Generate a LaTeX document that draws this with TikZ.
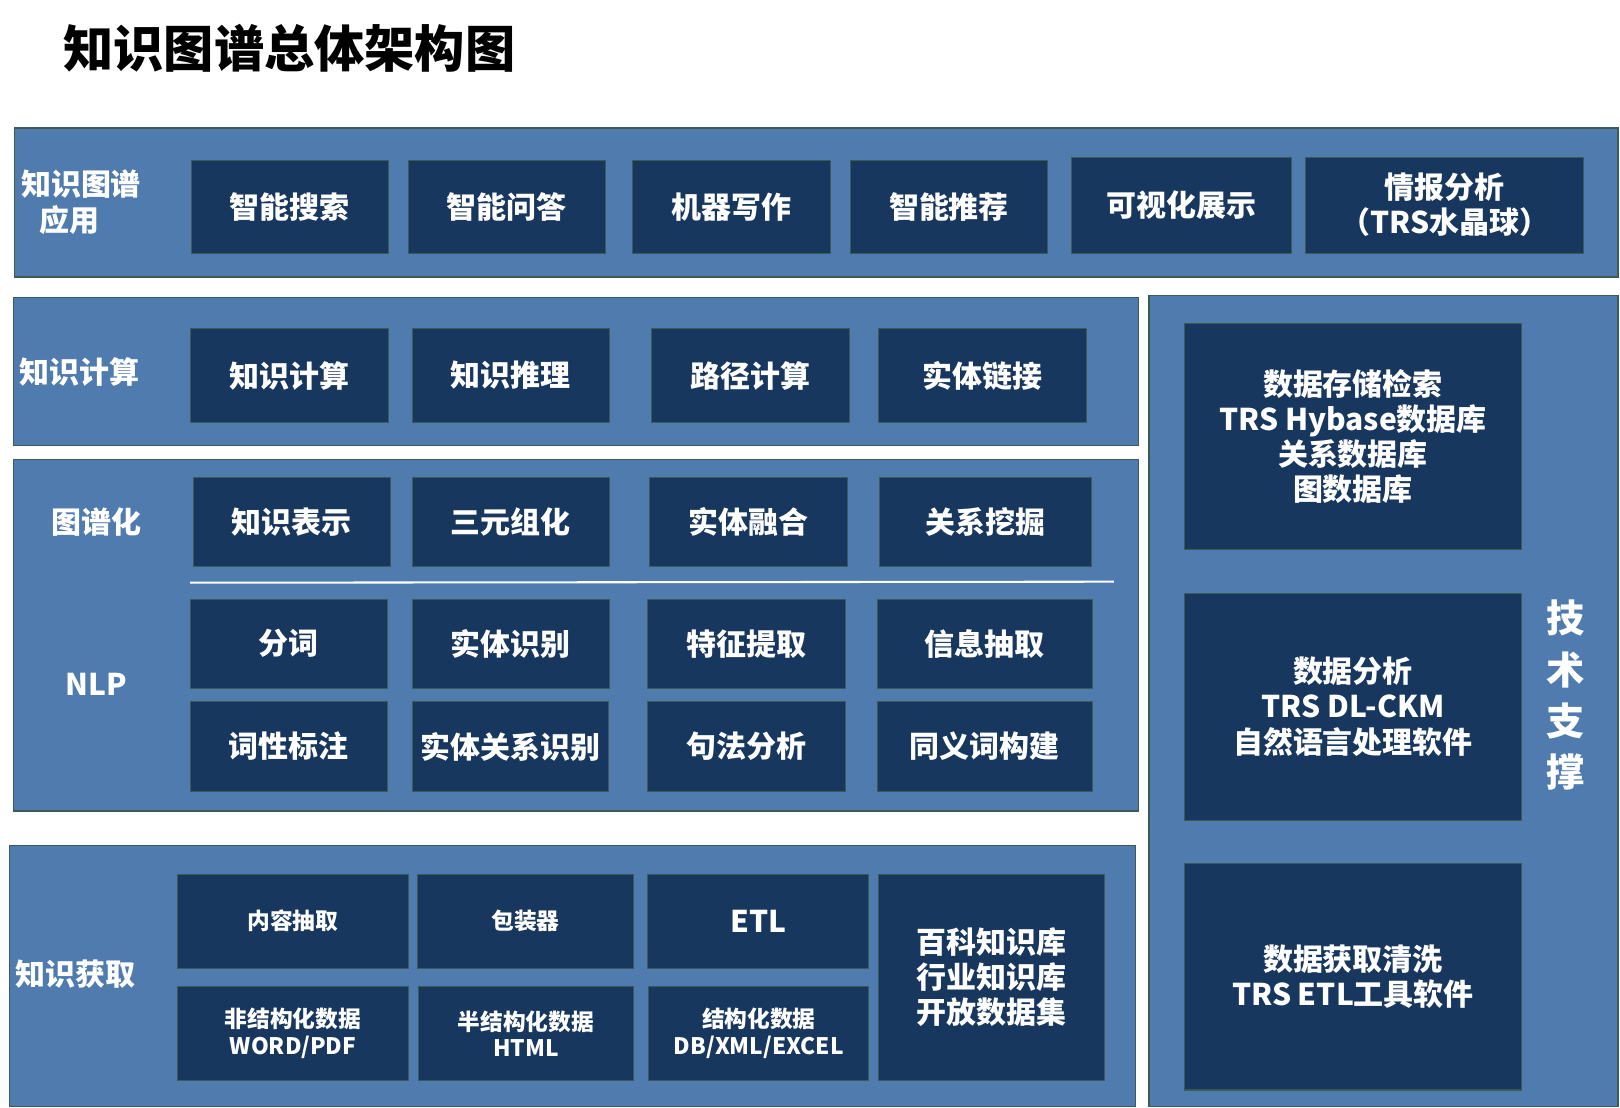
\documentclass[tikz,border=0pt]{standalone}
\usepackage{fontspec}
\setmainfont{Noto Sans CJK SC}
\definecolor{panelblue}{RGB}{79,123,175}
\definecolor{navy}{RGB}{23,55,94}
\definecolor{edge}{RGB}{58,92,84}
\def\boxat[#1](#2)(#3,#4)(#5,#6)#7{\node[#1, minimum width={(#5-#3)*0.5pt}, minimum height={(#6-#4)*0.5pt}] (#2) at ({(#3+#5)/2},{(#4+#6)/2}) {#7};}

\begin{document}
\begin{tikzpicture}[x=0.5pt, y=-0.5pt,
	panel/.style={draw=edge, fill=panelblue, line width=0.6pt, inner sep=0pt},
	blk/.style={draw=edge, fill=navy, line width=0.5pt, inner sep=0pt, text=white, align=center, font=\fontsize{14.5}{17}\selectfont\bfseries},
	blksmall/.style={blk, font=\fontsize{11}{13}\selectfont\bfseries},
	lbl/.style={text=white, align=center, inner sep=0pt, font=\fontsize{14.5}{17.5}\selectfont\bfseries}]
	%%%%% START %%%%%
	\useasboundingbox (0,0) rectangle (1568,1072);
	\node[anchor=west, inner sep=0pt, font=\fontsize{24.3}{28}\selectfont\bfseries] (title) at (61,47) {知识图谱总体架构图};
	
	% panels
	\boxat[panel](papp)(14,124)(1566,268){}
	\boxat[panel](pcalc)(13,288)(1102,431){}
	\boxat[panel](pgraph)(13,445)(1102,785){}
	\boxat[panel](pget)(9,818)(1099,1071){}
	\boxat[panel](ptech)(1112,286)(1566,1071){}
	
	% knowledge graph applications
	\node[lbl, align=left, anchor=west] (lapp) at (20,196) {知识图谱\\\hspace{0.6em}应用};
	\boxat[blk](ss)(185,155)(376,245){智能搜索}
	\boxat[blk](wd)(395,155)(586,245){智能问答}
	\boxat[blk](xz)(612,155)(804,245){机器写作}
	\boxat[blk](tj)(823,155)(1014,245){智能推荐}
	\boxat[blk](ks)(1037,152)(1250,245){可视化展示}
	\boxat[blk](qb)(1264,152)(1533,245){情报分析\\（TRS水晶球）}
	
	% knowledge computing
	\node[lbl] (lcalc) at (77,360) {知识计算};
	\boxat[blk](js)(184,318)(376,409){知识计算}
	\boxat[blk](tl)(399,318)(590,409){知识推理}
	\boxat[blk](lj)(631,318)(822,409){路径计算}
	\boxat[blk](lk)(850,318)(1052,409){实体链接}
	
	% graph building and NLP
	\node[lbl] (lgraph) at (93,505) {图谱化};
	\node[lbl] (lnlp) at (93,662) {NLP};
	\boxat[blk](bs)(187,462)(378,548){知识表示}
	\boxat[blk](sy)(399,462)(590,548){三元组化}
	\boxat[blk](rh)(629,462)(820,548){实体融合}
	\boxat[blk](wj)(851,462)(1056,548){关系挖掘}
	\draw[white, line width=1pt] (184,564) -- (1078,563);
	\boxat[blk](fc)(184,580)(375,666){分词}
	\boxat[blk](sb)(399,580)(590,666){实体识别}
	\boxat[blk](tz)(627,580)(818,666){特征提取}
	\boxat[blk](cq)(849,580)(1057,666){信息抽取}
	\boxat[blk](cx)(184,679)(375,766){词性标注}
	\boxat[blk](gx)(399,679)(589,766){实体关系识别}
	\boxat[blk](jf)(627,679)(818,766){句法分析}
	\boxat[blk](ty)(849,679)(1057,766){同义词构建}
	
	% knowledge acquisition
	\node[lbl] (lget) at (73,943) {知识获取};
	\boxat[blksmall](nr)(172,846)(395,937){内容抽取}
	\boxat[blksmall](bz)(404,846)(613,937){包装器}
	\boxat[blk](etl)(627,846)(841,937){ETL}
	\boxat[blk](bk)(850,846)(1069,1046){百科知识库\\行业知识库\\开放数据集}
	\boxat[blksmall](fj)(172,955)(395,1046){非结构化数据\\WORD/PDF}
	\boxat[blksmall](bj)(405,955)(613,1046){半结构化数据\\HTML}
	\boxat[blksmall](jg)(628,955)(841,1046){结构化数据\\DB/XML/EXCEL}
	
	% technical support
	\boxat[blk](cc)(1146,313)(1473,532){数据存储检索\\TRS Hybase数据库\\关系数据库\\图数据库}
	\boxat[blk](fx)(1146,574)(1473,794){数据分析\\TRS DL-CKM\\自然语言处理软件}
	\boxat[blk](qx)(1146,836)(1473,1055){数据获取清洗\\TRS ETL工具软件}
	\node[lbl, font=\fontsize{18.5}{24.8}\selectfont\bfseries] (ltech) at (1515,673) {技\\术\\支\\撑};
	%%%%% END %%%%%
\end{tikzpicture}
\end{document}
